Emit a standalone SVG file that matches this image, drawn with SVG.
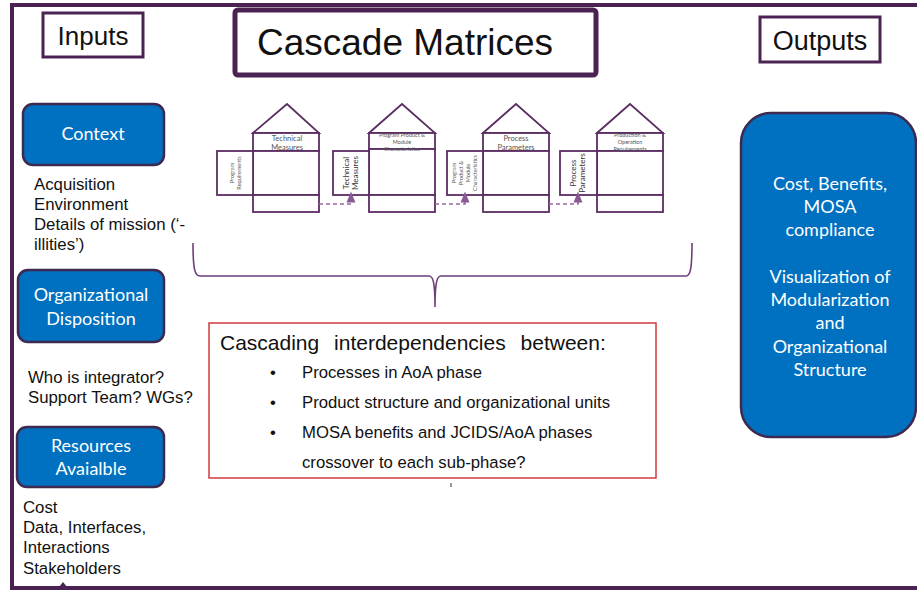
<svg xmlns="http://www.w3.org/2000/svg" width="917" height="590" viewBox="0 0 917 590">
<defs>
<style>
.frame{fill:none;stroke:#4a2352;stroke-width:4}
.lbl{fill:#fff;stroke:#4a2352;stroke-width:3}
.btn{fill:#0070c0;stroke:#3e2a50;stroke-width:2.5}
.btxt{font-family:Lato,"Open Sans",sans-serif;fill:#fff;text-anchor:middle}
.ar{font-family:"Liberation Sans",Arial,sans-serif;fill:#111}
.hs{fill:#fff;stroke:#5b2d63;stroke-width:1.8}
.sm{font-family:Lato,"Liberation Sans",sans-serif;fill:#555;text-anchor:middle}
.smd{font-family:Lato,"Liberation Sans",sans-serif;fill:#333;text-anchor:middle}
.dash{fill:none;stroke:#9a68a2;stroke-width:1.6;stroke-dasharray:4 3}
</style>
<marker id="ah" viewBox="0 0 10 10" refX="5" refY="5" markerWidth="7" markerHeight="7" orient="auto">
<path d="M0,1 L10,5 L0,9 z" fill="#8a5a94"/>
</marker>
</defs>
<rect width="917" height="590" fill="#fff"/>
<rect class="frame" x="12" y="5" width="910" height="583"/>

<g id="inputs-label">
<rect class="lbl" x="43" y="13" width="100" height="44"/>
<text class="ar" x="93" y="45" font-size="26" text-anchor="middle">Inputs</text>
</g>
<g id="title">
<rect x="235" y="10" width="361" height="65" rx="3" fill="#fff" stroke="#4a2352" stroke-width="5"/>
<text class="ar" x="405" y="55" font-size="37" text-anchor="middle">Cascade Matrices</text>
</g>
<g id="outputs-label">
<rect class="lbl" x="760" y="17" width="120" height="45"/>
<text class="ar" x="820" y="50" font-size="27" text-anchor="middle">Outputs</text>
</g>

<g id="context">
<rect class="btn" x="23" y="104" width="141" height="61" rx="10"/>
<text class="btxt" x="93" y="140" font-size="18">Context</text>
</g>
<g id="context-text">
<text class="ar" font-size="16.8"><tspan x="34" y="190">Acquisition</tspan><tspan x="34" y="210">Environment</tspan><tspan x="34" y="230">Details of mission (‘-</tspan><tspan x="34" y="250">illities’)</tspan></text>
</g>
<g id="org-disposition">
<rect class="btn" x="18" y="270" width="146" height="72" rx="10"/>
<text class="btxt" font-size="18"><tspan x="91" y="301">Organizational</tspan><tspan x="91" y="325">Disposition</tspan></text>
</g>
<g id="org-text">
<text class="ar" font-size="16.8"><tspan x="28" y="383">Who is integrator?</tspan><tspan x="28" y="403">Support Team? WGs?</tspan></text>
</g>
<g id="resources">
<rect class="btn" x="17" y="427" width="147" height="60" rx="10"/>
<text class="btxt" font-size="18"><tspan x="91" y="452">Resources</tspan><tspan x="91" y="475">Avaialble</tspan></text>
</g>
<g id="resources-text">
<text class="ar" font-size="16.8"><tspan x="23" y="513">Cost</tspan><tspan x="23" y="533">Data, Interfaces,</tspan><tspan x="23" y="553">Interactions</tspan><tspan x="23" y="574">Stakeholders</tspan></text>
<path d="M59,587 L63,582 L67,587 z" fill="#4a2352"/>
</g>

<g id="outputs">
<rect class="btn" x="741" y="113" width="175" height="324" rx="30"/>
<text class="btxt" font-size="18"><tspan x="830" y="190">Cost, Benefits,</tspan><tspan x="830" y="213">MOSA</tspan><tspan x="830" y="236">compliance</tspan><tspan x="830" y="283">Visualization of</tspan><tspan x="830" y="306">Modularization</tspan><tspan x="830" y="329">and</tspan><tspan x="830" y="353">Organizational</tspan><tspan x="830" y="376">Structure</tspan></text>
</g>

<g id="matrix-1">
<path class="hs" d="M253,133 L287,104 L319,133 Z"/>
<rect class="hs" x="253" y="133" width="66" height="18"/>
<rect class="hs" x="253" y="151" width="66" height="44"/>
<rect class="hs" x="253" y="195" width="66" height="17"/>
<rect class="hs" x="217" y="151" width="36" height="44"/>
<text class="sm" font-size="7.5"><tspan x="287" y="141">Technical</tspan><tspan x="287" y="150">Measures</tspan></text>
<text class="sm" font-size="5.5" transform="translate(235,173) rotate(-90)"><tspan x="0" y="-1">Program</tspan><tspan x="0" y="6">Requirements</tspan></text>
</g>
<g id="matrix-2">
<path class="hs" d="M369,133 L402,104 L435,133 Z"/>
<rect class="hs" x="369" y="133" width="66" height="16"/>
<rect class="hs" x="369" y="149" width="66" height="46"/>
<rect class="hs" x="369" y="195" width="66" height="17"/>
<rect class="hs" x="333" y="151" width="36" height="44"/>
<text class="sm" font-size="5.5"><tspan x="402" y="137">Program Product &amp;</tspan><tspan x="402" y="144">Module</tspan><tspan x="402" y="151">Characteristics</tspan></text>
<text class="smd" font-size="8" transform="translate(351,173) rotate(-90)"><tspan x="0" y="-2">Technical</tspan><tspan x="0" y="7">Measures</tspan></text>
</g>
<g id="matrix-3">
<path class="hs" d="M483,133 L516,104 L549,133 Z"/>
<rect class="hs" x="483" y="133" width="66" height="18"/>
<rect class="hs" x="483" y="151" width="66" height="44"/>
<rect class="hs" x="483" y="195" width="66" height="17"/>
<rect class="hs" x="447" y="151" width="36" height="44"/>
<text class="sm" font-size="7.5"><tspan x="516" y="141">Process</tspan><tspan x="516" y="150">Parameters</tspan></text>
<text class="sm" font-size="5.5" transform="translate(465,173) rotate(-90)"><tspan x="0" y="-9">Program</tspan><tspan x="0" y="-2">Product &amp;</tspan><tspan x="0" y="5">Module</tspan><tspan x="0" y="12">Characteristics</tspan></text>
</g>
<g id="matrix-4">
<path class="hs" d="M597,133 L630,104 L663,133 Z"/>
<rect class="hs" x="597" y="133" width="66" height="18"/>
<rect class="hs" x="597" y="151" width="66" height="44"/>
<rect class="hs" x="597" y="195" width="66" height="17"/>
<rect class="hs" x="560" y="151" width="37" height="44"/>
<text class="sm" font-size="5.5"><tspan x="630" y="137">Production &amp;</tspan><tspan x="630" y="144">Operation</tspan><tspan x="630" y="151">Requirements</tspan></text>
<text class="smd" font-size="8" transform="translate(578,173) rotate(-90)"><tspan x="0" y="-2">Process</tspan><tspan x="0" y="7">Parameters</tspan></text>
</g>

<g id="connectors">
<path class="dash" d="M319,204 H351 V197" marker-end="url(#ah)"/>
<path class="dash" d="M435,204 H465 V197" marker-end="url(#ah)"/>
<path class="dash" d="M549,204 H578 V197" marker-end="url(#ah)"/>
<path d="M193,243 C193,270 195,276 200,276 H429 C433,276 435,282 435,307 C435,282 437,276 441,276 H686 C690,276 692,270 692,243" fill="none" stroke="#6e3f78" stroke-width="1.6"/>
<line x1="451" y1="483" x2="451" y2="487" stroke="#4a2352" stroke-width="1"/>
</g>

<g id="interdependencies">
<rect x="209" y="323" width="447" height="155" fill="#fff" stroke="#d23b3b" stroke-width="1.5"/>
<text class="ar" x="220" y="350" font-size="21" word-spacing="9">Cascading interdependencies between:</text>
<g class="ar" font-size="16.7">
<text x="270" y="378">•</text><text x="302" y="378">Processes in AoA phase</text>
<text x="270" y="408">•</text><text x="302" y="408">Product structure and organizational units</text>
<text x="270" y="438">•</text><text x="302" y="438">MOSA benefits and JCIDS/AoA phases</text>
<text x="302" y="468">crossover to each sub-phase?</text>
</g>
</g>
</svg>
